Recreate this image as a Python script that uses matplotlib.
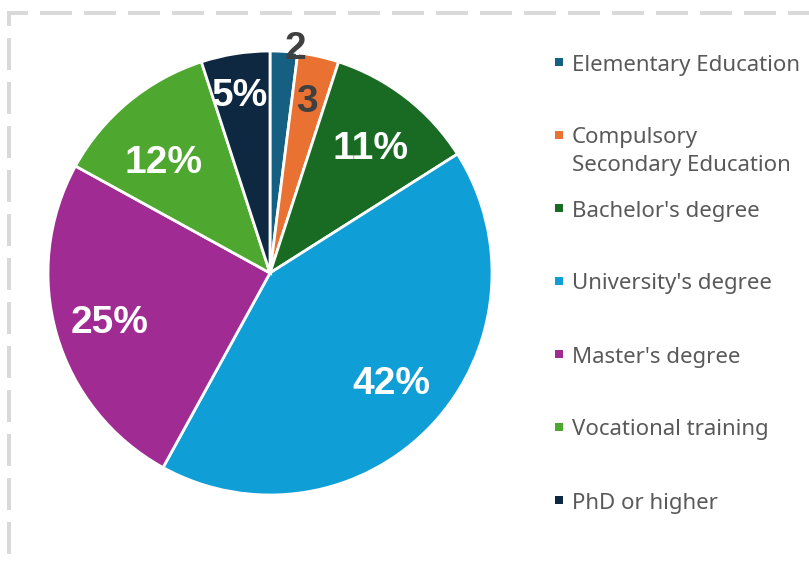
import numpy as np
import matplotlib
matplotlib.use("Agg")
import matplotlib.pyplot as plt
from matplotlib.patches import Rectangle

# education level shares (percent)
categories = ["Elementary Education", "Compulsory\nSecondary Education",
              "Bachelor's degree", "University's degree", "Master's degree",
              "Vocational training", "PhD or higher"]
shares = [2, 3, 11, 42, 25, 12, 5]
labels = ["2", "3", "11%", "42%", "25%", "12%", "5%"]
colors = ["#156082", "#E97132", "#196B24", "#0F9ED5", "#A02B93",
          "#4EA72E", "#0E2841"]
label_colors = ["#404040", "#404040", "white", "white", "white", "white", "white"]
# radial distance (fraction of radius) and angular nudge (deg, clockwise)
label_dist = [1.015, 0.79, 0.72, 0.74, 0.755, 0.69, 0.81]
label_shift = [2.8, -0.5, 1.1, -0.9, -1.2, -4.6, -0.6]

W, H = 809, 562
fig = plt.figure(figsize=(W / 100, H / 100), dpi=100)
ax = fig.add_axes([0, 0, 1, 1])

cx, cy, R = 270, H - 273, 222
wedges, _ = ax.pie(shares, colors=colors, startangle=90, counterclock=False,
                   center=(cx, cy), radius=R,
                   wedgeprops=dict(edgecolor="white", linewidth=2.0))

# data labels around the middle angle of each wedge
for w, lab, col, d, s in zip(wedges, labels, label_colors, label_dist, label_shift):
    ang = np.deg2rad((w.theta1 + w.theta2) / 2 - s)
    x = cx + d * R * np.cos(ang)
    y = cy + d * R * np.sin(ang)
    ax.text(x, y, lab, ha="center", va="center", color=col, fontsize=28,
            fontweight="bold", family="Liberation Sans")

ax.set_xlim(0, W)
ax.set_ylim(0, H)
ax.set_aspect("equal")
ax.axis("off")

# legend drawn by hand: fixed pitch, marker on first line, wrapped lines below
for i, (name, c) in enumerate(zip(categories, colors)):
    ypx = 62 + 73 * i
    ax.add_patch(Rectangle((555, H - ypx - 4), 8, 8, facecolor=c, edgecolor="none"))
    for k, line in enumerate(name.split("\n")):
        ax.text(572, H - ypx - 8.5 - 28 * k, line, ha="left", va="baseline",
                color="#595959", fontsize=16, family="Noto Sans")

# dashed chart border (only top and left show in the crop)
plt.rcParams["lines.scale_dashes"] = False
px = 0.72
ax.plot([7.5, W + 10], [H - 12.5, H - 12.5], color="#D9D9D9", lw=4 * px,
        linestyle=(11 * px, (32 * px, 12 * px)), solid_capstyle="butt")
ax.plot([9.5, 9.5], [H - 10.5, -10], color="#D9D9D9", lw=4 * px,
        linestyle=(17 * px, (32 * px, 12 * px)), solid_capstyle="butt")

fig.savefig("out.png", dpi=100)
